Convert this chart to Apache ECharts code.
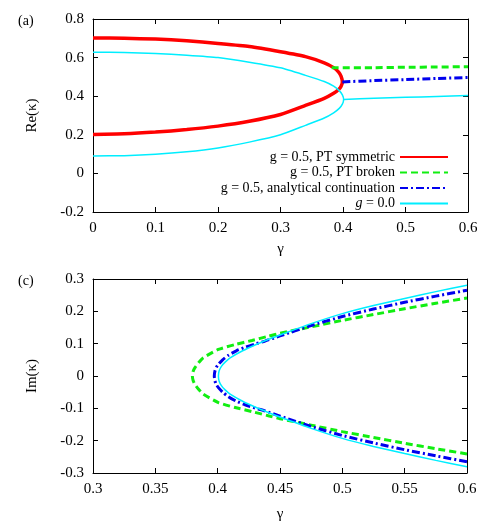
<!DOCTYPE html>
<html>
<head>
<meta charset="utf-8">
<script src="https://cdn.jsdelivr.net/npm/echarts@6/dist/echarts.min.js"></script>
<style>
html, body { margin: 0; padding: 0; background: #fff; }
#main { width: 498px; height: 523px; }
</style>
</head>
<body>
<div id="main"></div>
<script>
// names in the legend
var nameSym = 'g = 0.5, PT symmetric';
var nameBroken = 'g = 0.5, PT broken';
var nameCont = 'g = 0.5, analytical continuation';
var nameFree = 'g = 0.0';

// (a) Re(kappa) -- closed loop, upper branch to the tip then the lower one back
var reGammaSym = [0, 0.05, 0.1, 0.15, 0.2, 0.25, 0.3, 0.34, 0.37, 0.385, 0.393, 0.397, 0.399,
                  0.397, 0.393, 0.385, 0.37, 0.34, 0.3, 0.25, 0.2, 0.15, 0.1, 0.05, 0];
var reSym = [0.702, 0.700, 0.696, 0.687, 0.673, 0.657, 0.630, 0.605, 0.573, 0.548, 0.525, 0.503, 0.474,
             0.452, 0.435, 0.415, 0.389, 0.352, 0.305, 0.270, 0.245, 0.227, 0.214, 0.205, 0.202];

var reGammaFree = [0, 0.05, 0.1, 0.15, 0.2, 0.25, 0.3, 0.34, 0.37, 0.385, 0.394, 0.399, 0.401,
                   0.399, 0.394, 0.385, 0.37, 0.34, 0.3, 0.25, 0.2, 0.15, 0.1, 0.05, 0];
var reFree = [0.628, 0.626, 0.621, 0.612, 0.600, 0.576, 0.547, 0.508, 0.476, 0.452, 0.429, 0.407, 0.383,
              0.359, 0.337, 0.314, 0.287, 0.249, 0.200, 0.162, 0.132, 0.112, 0.099, 0.092, 0.090];

// right of the exceptional point
var reGammaFreeB = [0.401, 0.45, 0.5, 0.55, 0.6];
var reFreeB = [0.383, 0.389, 0.394, 0.399, 0.404];
var reGammaCont = [0.399, 0.45, 0.5, 0.55, 0.6];
var reCont = [0.474, 0.481, 0.486, 0.492, 0.497];
var reGammaBroken = [0.382, 0.45, 0.5, 0.55, 0.6];
var reBroken = [0.548, 0.548, 0.550, 0.551, 0.553];

// (c) Im(kappa) -- from lower right, round the tip, to upper right
var imGammaBroken = [0.6, 0.575, 0.55, 0.525, 0.5, 0.475, 0.45, 0.4406, 0.4275, 0.4141, 0.4006, 0.3885, 0.3845, 0.3818, 0.3803,
                     0.3797,
                     0.3803, 0.3818, 0.3845, 0.3885, 0.4006, 0.4141, 0.4275, 0.4406, 0.45, 0.475, 0.5, 0.525, 0.55, 0.575, 0.6];
var imBroken = [-0.241, -0.225, -0.208, -0.19, -0.172, -0.152, -0.132, -0.123, -0.11, -0.0975, -0.082, -0.0565, -0.04, -0.026, -0.014,
                0,
                0.014, 0.026, 0.04, 0.0565, 0.082, 0.0975, 0.11, 0.123, 0.132, 0.152, 0.172, 0.19, 0.208, 0.225, 0.241];

var imGammaCont = [0.6, 0.575, 0.55, 0.525, 0.5, 0.475, 0.45, 0.438, 0.43, 0.422, 0.415, 0.4086, 0.404, 0.4006, 0.399, 0.3978,
                   0.3973,
                   0.3978, 0.399, 0.4006, 0.404, 0.4086, 0.415, 0.422, 0.43, 0.438, 0.45, 0.475, 0.5, 0.525, 0.55, 0.575, 0.6];
var imCont = [-0.265, -0.247, -0.228, -0.207, -0.184, -0.156, -0.124, -0.108, -0.099, -0.089, -0.078, -0.064, -0.05, -0.036, -0.027, -0.015,
              0,
              0.015, 0.027, 0.036, 0.05, 0.064, 0.078, 0.089, 0.099, 0.108, 0.124, 0.156, 0.184, 0.207, 0.228, 0.247, 0.265];

var imGammaFree = [0.6, 0.575, 0.55, 0.525, 0.5, 0.475, 0.45, 0.44, 0.43, 0.42, 0.41, 0.406, 0.403, 0.4012,
                   0.4006,
                   0.4012, 0.403, 0.406, 0.41, 0.42, 0.43, 0.44, 0.45, 0.475, 0.5, 0.525, 0.55, 0.575, 0.6];
var imFree = [-0.281, -0.261, -0.240, -0.218, -0.193, -0.162, -0.127, -0.112, -0.096, -0.078, -0.056, -0.043, -0.03, -0.016,
              0,
              0.016, 0.03, 0.043, 0.056, 0.078, 0.096, 0.112, 0.127, 0.162, 0.193, 0.218, 0.240, 0.261, 0.281];

var fontFam = '"Liberation Serif", "DejaVu Serif", serif';

function pairs(xs, ys) {
  var out = [];
  for (var i = 0; i < xs.length; i++) out.push([xs[i], ys[i]]);
  return out;
}

// axis with inward ticks; the mirrored ones carry no labels
function axis(gridIndex, position, min, max, interval, withLabel) {
  return {
    type: 'value',
    gridIndex: gridIndex,
    position: position,
    min: min,
    max: max,
    interval: interval,
    splitLine: { show: false },
    axisLine: { show: true, onZero: false, lineStyle: { color: '#000', width: 1 } },
    axisTick: { show: true, inside: true, length: 5, lineStyle: { color: '#000' } },
    axisLabel: {
      show: withLabel,
      margin: 9,
      color: '#000',
      fontFamily: fontFam,
      fontSize: 15
    }
  };
}

var nameFont = { color: '#000', fontFamily: fontFam, fontSize: 15 };

var xTop = axis(0, 'bottom', 0, 0.6, 0.1, true);
xTop.name = 'γ';
xTop.nameLocation = 'middle';
xTop.nameGap = 30;
xTop.nameTextStyle = nameFont;

var yTop = axis(0, 'left', -0.2, 0.8, 0.2, true);
yTop.name = 'Re(κ)';
yTop.nameLocation = 'middle';
yTop.nameGap = 53;
yTop.nameTextStyle = nameFont;

var xBot = axis(1, 'bottom', 0.3, 0.6, 0.05, true);
xBot.name = 'γ';
xBot.nameLocation = 'middle';
xBot.nameGap = 34;
xBot.nameTextStyle = nameFont;

var yBot = axis(1, 'left', -0.3, 0.3, 0.1, true);
yBot.name = 'Im(κ)';
yBot.nameLocation = 'middle';
yBot.nameGap = 53;
yBot.nameTextStyle = nameFont;

var styleSym = { color: '#ff0000', width: 3.5, type: 'solid' };
var styleBroken = { color: '#11ee11', width: 3, type: [7, 4] };
var styleCont = { color: '#0000ee', width: 3, type: [8, 3, 2, 3] };
var styleFree = { color: '#00eeff', width: 1.5, type: 'solid' };

function line(name, data, xi, yi, ls) {
  return {
    name: name,
    type: 'line',
    xAxisIndex: xi,
    yAxisIndex: yi,
    data: data,
    showSymbol: false,
    symbol: 'none',
    smooth: 0.2,
    color: ls.color,
    lineStyle: ls,
    emphasis: { disabled: true }
  };
}

var chart = echarts.init(document.getElementById('main'));

var option = {
  backgroundColor: '#fff',
  animation: false,
  grid: [
    { left: 93, top: 19, width: 375, height: 193 },
    { left: 93, top: 279, width: 374, height: 195 }
  ],
  xAxis: [xTop, axis(0, 'top', 0, 0.6, 0.1, false), xBot, axis(1, 'top', 0.3, 0.6, 0.05, false)],
  yAxis: [yTop, axis(0, 'right', -0.2, 0.8, 0.2, false), yBot, axis(1, 'right', -0.3, 0.3, 0.1, false)],
  legend: {
    data: [nameSym, nameBroken, nameCont, nameFree],
    orient: 'vertical',
    align: 'right',
    right: 44,
    top: 145,
    itemWidth: 48,
    itemHeight: 14,
    itemGap: 1.5,
    selectedMode: false,
    // hide the marker the line icon gets by default
    itemStyle: { opacity: 0, borderWidth: 0 },
    textStyle: {
      color: '#000',
      fontFamily: fontFam,
      fontSize: 14,
      rich: { i: { fontStyle: 'italic', fontFamily: fontFam, fontSize: 14, color: '#000' } }
    },
    formatter: function (name) {
      return name === nameFree ? '{i|g} = 0.0' : name;
    }
  },
  graphic: [
    { type: 'text', left: 18, top: 14, style: { text: '(a)', fill: '#000', font: '14px ' + fontFam } },
    { type: 'text', left: 18, top: 274, style: { text: '(c)', fill: '#000', font: '14px ' + fontFam } }
  ],
  series: [
    line(nameSym, pairs(reGammaSym, reSym), 0, 0, styleSym),
    line(nameBroken, pairs(reGammaBroken, reBroken), 0, 0, styleBroken),
    line(nameCont, pairs(reGammaCont, reCont), 0, 0, styleCont),
    line(nameFree, pairs(reGammaFree, reFree), 0, 0, styleFree),
    line(nameFree, pairs(reGammaFreeB, reFreeB), 0, 0, styleFree),
    line(nameBroken, pairs(imGammaBroken, imBroken), 2, 2, styleBroken),
    line(nameCont, pairs(imGammaCont, imCont), 2, 2, styleCont),
    line(nameFree, pairs(imGammaFree, imFree), 2, 2, styleFree)
  ]
};

chart.setOption(option);
</script>
</body>
</html>
